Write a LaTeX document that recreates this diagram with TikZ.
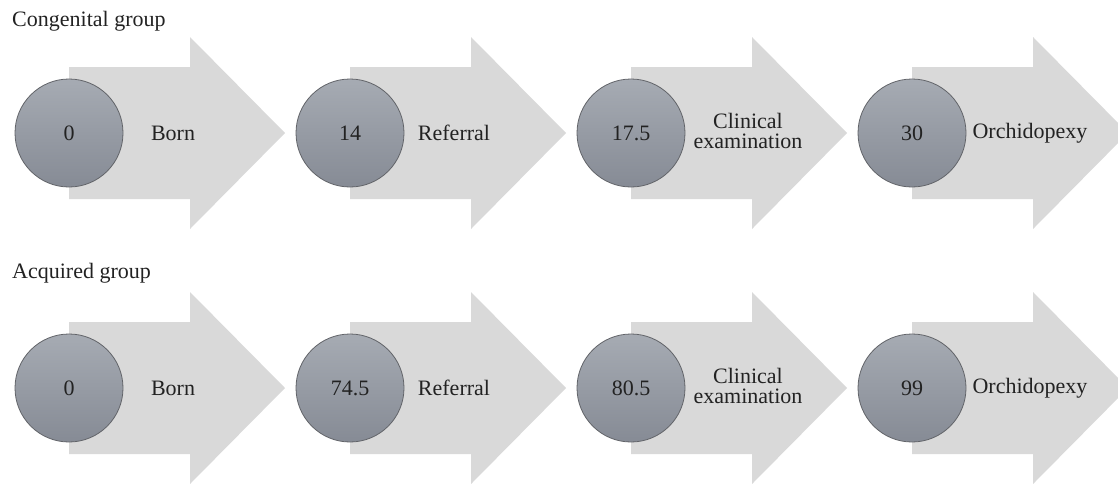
\documentclass[tikz,border=0pt]{standalone}
\usepackage{fontspec}
\setmainfont{Liberation Serif}

\definecolor{arrowgray}{RGB}{217,217,217}
\definecolor{discline}{RGB}{98,100,105}
\definecolor{disctop}{RGB}{166,171,179}
\definecolor{discbottom}{RGB}{134,139,149}
\definecolor{textgray}{RGB}{34,34,34}

\begin{document}
\begin{tikzpicture}
 [
  x = 1pt, y = -1pt,
  stage/.style = {draw = discline, circle, line width = .8pt,
                  top color = disctop, bottom color = discbottom,
                  minimum size = 108pt, inner sep = 0pt,
                  text = textgray, font = \fontsize{22}{22}\selectfont},
  event/.style = {align = center, inner sep = 0pt, text = textgray,
                  font = \fontsize{22}{20}\selectfont},
  title/.style = {anchor = west, inner sep = 0pt, text = textgray,
                  font = \fontsize{22}{22}\selectfont},
  stagearrow/.pic = {\fill[arrowgray] (0,-66) -- (121,-66) -- (121,-96)
                     -- (216,0) -- (121,96) -- (121,66) -- (0,66) -- cycle;},
 ]

 \useasboundingbox (0,0) rectangle (1118,483);

 % congenital group
 \node (cong) at (12,21) [title] {Congenital group};

 \pic at (69,133)  {stagearrow};
 \pic at (350,133) {stagearrow};
 \pic at (631,133) {stagearrow};
 \pic at (912,133) {stagearrow};

 \node (c0) at (69,133)  [stage] {0};
 \node (c1) at (350,133) [stage] {14};
 \node (c2) at (631,133) [stage] {17.5};
 \node (c3) at (912,133) [stage] {30};

 \node (cborn)  at (173,133)  [event] {Born};
 \node (cref)   at (454,133)  [event] {Referral};
 \node (cexam)  at (748,131)  [event] {Clinical\\examination};
 \node (corch)  at (1030,133) [event] {Orchidopexy};

 % acquired group
 \node (acq) at (12,273) [title] {Acquired group};

 \pic at (69,388)  {stagearrow};
 \pic at (350,388) {stagearrow};
 \pic at (631,388) {stagearrow};
 \pic at (912,388) {stagearrow};

 \node (a0) at (69,388)  [stage] {0};
 \node (a1) at (350,388) [stage] {74.5};
 \node (a2) at (631,388) [stage] {80.5};
 \node (a3) at (912,388) [stage] {99};

 \node (aborn)  at (173,388)  [event] {Born};
 \node (aref)   at (454,388)  [event] {Referral};
 \node (aexam)  at (748,386)  [event] {Clinical\\examination};
 \node (aorch)  at (1030,388) [event] {Orchidopexy};
\end{tikzpicture}
\end{document}
